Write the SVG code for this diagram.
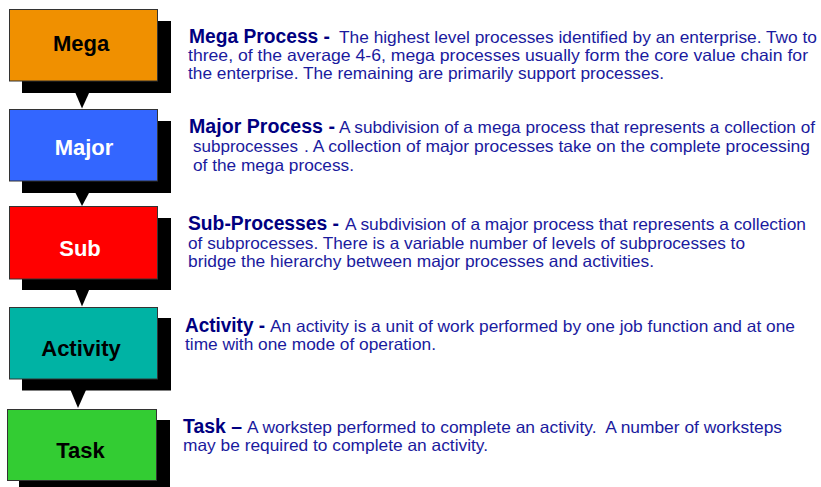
<svg xmlns="http://www.w3.org/2000/svg" width="821" height="487" viewBox="0 0 821 487">
<style>
.box{stroke:#333333;stroke-width:1}
.shadow{fill:#000000}
.lbl{font-family:"Liberation Sans",Arial,sans-serif;font-weight:bold;font-size:22px;text-anchor:middle}
.ttl{font-family:"Liberation Sans",Arial,sans-serif;font-weight:bold;font-size:19.5px;fill:#000080}
.bd{font-family:"Liberation Sans",Arial,sans-serif;font-size:16.5px;fill:#1a1a9e}
.arr{fill:#000000}
</style>
<g id="connectors">
<polygon class="arr" points="75,92 89.5,92 82,108.5"/>
<polygon class="arr" points="75,192 89.5,192 82,206"/>
<polygon class="arr" points="75,289 89.5,289 82,306.5"/>
<polygon class="arr" points="70.5,390 86,390 78,408"/>
</g>
<g id="mega">
<rect class="shadow" x="22" y="21" width="149" height="72"/>
<rect class="box" x="9.5" y="9.5" width="148" height="71.5" fill="#f09000"/>
<text class="lbl" x="81" y="51" fill="#000000">Mega</text>
</g>
<g id="major">
<rect class="shadow" x="22" y="121" width="149" height="72"/>
<rect class="box" x="9.5" y="109.5" width="148" height="71.5" fill="#3366ff"/>
<text class="lbl" x="84" y="154.5" fill="#ffffff">Major</text>
</g>
<g id="sub">
<rect class="shadow" x="22" y="218" width="149" height="72"/>
<rect class="box" x="9.5" y="206.5" width="148" height="72.5" fill="#ff0000"/>
<text class="lbl" x="80" y="256" fill="#ffffff">Sub</text>
</g>
<g id="activity">
<rect class="shadow" x="22" y="318" width="149" height="72.5"/>
<rect class="box" x="9.5" y="307.5" width="148" height="71.5" fill="#00b3a4"/>
<text class="lbl" x="81" y="356" fill="#000000">Activity</text>
</g>
<g id="task">
<rect class="shadow" x="19" y="420" width="151" height="70"/>
<rect class="box" x="7.5" y="409.5" width="149" height="71" fill="#33cc33"/>
<text class="lbl" x="80.5" y="457.5" fill="#000000">Task</text>
</g>
<g id="mega-text">
<text class="ttl" x="189" y="43" textLength="141" lengthAdjust="spacingAndGlyphs">Mega Process -</text>
<text class="bd" x="339" y="43" textLength="478" lengthAdjust="spacingAndGlyphs">The highest level processes identified by an enterprise. Two to</text>
<text class="bd" x="188" y="61" textLength="620" lengthAdjust="spacingAndGlyphs">three, of the average 4-6, mega processes usually form the core value chain for</text>
<text class="bd" x="188" y="78.5" textLength="476" lengthAdjust="spacingAndGlyphs">the enterprise. The remaining are primarily support processes.</text>
</g>
<g id="major-text">
<text class="ttl" x="189" y="133" textLength="146" lengthAdjust="spacingAndGlyphs">Major Process -</text>
<text class="bd" x="339" y="133" textLength="476" lengthAdjust="spacingAndGlyphs">A subdivision of a mega process that represents a collection of</text>
<text class="bd" x="193" y="152" textLength="105" lengthAdjust="spacingAndGlyphs">subprocesses</text>
<text class="bd" x="304" y="152" textLength="506" lengthAdjust="spacingAndGlyphs">. A collection of major processes take on the complete processing</text>
<text class="bd" x="193" y="171" textLength="161" lengthAdjust="spacingAndGlyphs">of the mega process.</text>
</g>
<g id="sub-text">
<text class="ttl" x="188" y="230" textLength="151" lengthAdjust="spacingAndGlyphs">Sub-Processes -</text>
<text class="bd" x="345" y="230" textLength="461" lengthAdjust="spacingAndGlyphs">A subdivision of a major process that represents a collection</text>
<text class="bd" x="188" y="248.5" textLength="557" lengthAdjust="spacingAndGlyphs">of subprocesses. There is a variable number of levels of subprocesses to</text>
<text class="bd" x="188" y="266.5" textLength="466" lengthAdjust="spacingAndGlyphs">bridge the hierarchy between major processes and activities.</text>
</g>
<g id="activity-text">
<text class="ttl" x="185" y="332" textLength="80" lengthAdjust="spacingAndGlyphs">Activity -</text>
<text class="bd" x="270" y="332" textLength="525" lengthAdjust="spacingAndGlyphs">An activity is a unit of work performed by one job function and at one</text>
<text class="bd" x="185" y="350" textLength="251" lengthAdjust="spacingAndGlyphs">time with one mode of operation.</text>
</g>
<g id="task-text">
<text class="ttl" x="183" y="432.5" textLength="59" lengthAdjust="spacingAndGlyphs">Task –</text>
<text class="bd" x="247" y="432.5" textLength="535" lengthAdjust="spacingAndGlyphs">A workstep performed to complete an activity.&#160; A number of worksteps</text>
<text class="bd" x="183" y="450.5" textLength="305" lengthAdjust="spacingAndGlyphs">may be required to complete an activity.</text>
</g>
</svg>
